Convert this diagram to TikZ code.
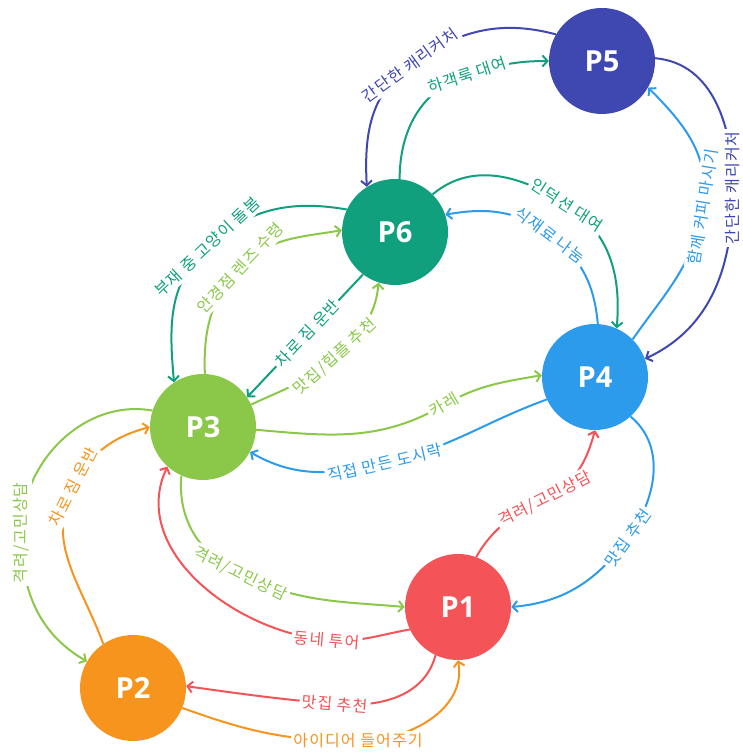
\documentclass[tikz,border=0pt]{standalone}
\usepackage{fontspec}
\setmainfont[LetterSpace=7]{Noto Sans CJK KR}
\newfontfamily\nodefont{Open Sans}
\usetikzlibrary{arrows.meta}
\definecolor{cind}{HTML}{3F47B1}
\definecolor{cteal}{HTML}{11A07E}
\definecolor{cblue}{HTML}{2D9BEB}
\definecolor{cgreen}{HTML}{8BC84A}
\definecolor{cred}{HTML}{F45357}
\definecolor{corange}{HTML}{F7941D}
\begin{document}
\begin{tikzpicture}[x=1pt,y=1pt,
  pnode/.style={circle, minimum size=106pt, inner sep=0pt, text=white, font=\nodefont\bfseries\fontsize{29}{30}\selectfont},
  edge/.style={line width=2pt, -{Straight Barb[length=5pt,width=11pt]}},
  lbl/.style={fill=white, inner sep=2.5pt, font=\fontsize{16}{17}\selectfont},
]
\useasboundingbox (0,0) rectangle (743,754);
\node[pnode, fill=cind]    (P5) at (602,693) {P5};
\node[pnode, fill=cteal]   (P6) at (395,522) {P6};
\node[pnode, fill=cblue]   (P4) at (595,377) {P4};
\node[pnode, fill=cgreen]  (P3) at (203,327) {P3};
\node[pnode, fill=cred]    (P1) at (458,147) {P1};
\node[pnode, fill=corange] (P2) at (133,66)  {P2};

\draw[edge,cteal] (P6.85) to[out=90,in=198] (467,679) node[lbl,rotate=18]{하객룩 대여} to[out=18,in=180] (P5.180);
\draw[edge,cind] (P5.150) to[out=165,in=36] (410,689) node[lbl,rotate=36]{간단한 캐리커처} to[out=216,in=93] (P6.122);
\draw[edge,cind] (P5.3) to[out=-5,in=90] (733,566) node[lbl,rotate=90]{간단한 캐리커처} to[out=270,in=25] (P4.20);
\draw[edge,cblue] (P4.45) to[out=55,in=261] (703,547) node[lbl,rotate=81]{함께 커피 마시기} to[out=81,in=-45] (P5.-30);
\draw[edge,cteal] (P6.45) to[out=40,in=147] (567,549) node[lbl,rotate=-33]{인덕션 대여} to[out=-33,in=85] (P4.66);
\draw[edge,cblue] (P4.87) to[out=95,in=-37] (550,519) node[lbl,rotate=-37]{식재료 나눔} to[out=143,in=10] (P6.19);
\draw[edge,cgreen] (P3.88) to[out=92,in=227] (240,486) node[lbl,rotate=47]{안경점 렌즈 수령} to[out=47,in=190] (P6.178);
\draw[edge,cteal] (P6.155) to[out=170,in=43] (207,507) node[lbl,rotate=43]{부재 중 고양이 돌봄} to[out=223,in=95] (P3.123);
\draw[edge,cteal] (P6.233) -- node[lbl,sloped,pos=0.48]{차로 짐 운반} (P3.34);
\draw[edge,cgreen] (P3.25) to[out=25,in=222] (335,397) node[lbl,rotate=42]{맛집/힙플 추천} to[out=42,in=265] (P6.252);
\draw[edge,cgreen] (P3.-3) to[out=-5,in=210] (444,349) node[lbl,rotate=30]{카레} to[out=30,in=190] (P4.178);
\draw[edge,cblue] (P4.205) to[out=200,in=13] (385,291) node[lbl,rotate=13]{직접 만든 도시락} to[out=193,in=-30] (P3.-28);
\draw[edge,cgreen] (P3.246) to[out=265,in=154] (240,180) node[lbl,rotate=-26]{격려/고민상담} to[out=-26,in=175] (P1.180);
\draw[edge,cred] (P1.205) to[out=190,in=-5] (327,114) node[lbl,rotate=-5]{동네 투어} to[out=175,in=245] (P3.228);
\draw[edge,cgreen] (P3.162) to[out=170,in=90] (21,221) node[lbl,rotate=90]{격려/고민상담} to[out=270,in=150] (P2.150);
\draw[edge,corange] (P2.124) to[out=110,in=243] (73,267) node[lbl,rotate=63]{차로 짐 운반} to[out=63,in=195] (P3.180);
\draw[edge,cred] (P1.245) to[out=255,in=-5] (335,50) node[lbl,rotate=-5]{맛집 추천} to[out=175,in=-8] (P2.2);
\draw[edge,corange] (P2.-22) to[out=-20,in=180] (358,13) node[lbl]{아이디어 들어주기} to[out=0,in=-80] (P1.270);
\draw[edge,cred] (P1.70) to[out=60,in=207] (545,255) node[lbl,rotate=27]{격려/고민상담} to[out=27,in=255] (P4.270);
\draw[edge,cblue] (P4.-48) to[out=-40,in=54] (628,216) node[lbl,rotate=54]{맛집 추천} to[out=234,in=5] (P1.0);
\end{tikzpicture}
\end{document}
